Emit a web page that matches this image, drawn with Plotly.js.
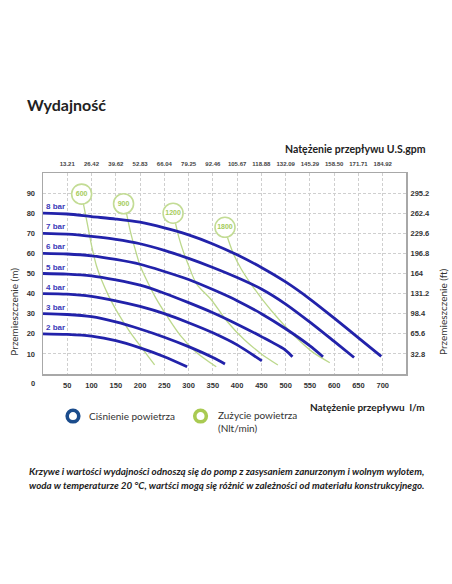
<!DOCTYPE html>
<html>
<head>
<meta charset="utf-8">
<script src="https://cdn.plot.ly/plotly-3.0.1.min.js"></script>
<style>
  html, body { margin: 0; padding: 0; background: #fff; }
  #chart { width: 452px; height: 584px; }
</style>
</head>
<body>
<div id="chart"></div>
<script>
// Flow axis ticks (l/min) and the matching U.S. gpm labels on top
const flowTicks = [50, 100, 150, 200, 250, 300, 350, 400, 450, 500, 550, 600, 650, 700];
const gpmLabels = ['13.21', '26.42', '39.62', '52.83', '66.04', '79.25', '92.46', '105.67',
    '118.88', '132.09', '145.29', '158.50', '171.71', '184.92'];

// Head axis ticks (m) and the matching feet labels on the right
const headTicks = [10, 20, 30, 40, 50, 60, 70, 80, 90];
const ftLabels = ['32.8', '65.6', '98.4', '131.2', '164', '196.8', '229.6', '262.4', '295.2'];

// Pressure curves (flow l/min, head m)
const pressureNames = ['2 bar', '3 bar', '4 bar', '5 bar', '6 bar', '7 bar', '8 bar'];
const flow2 = [0, 50, 100, 150, 200, 250, 297];
const head2 = [20, 19.7, 18.8, 16.6, 13, 8.6, 3.6];
const flow3 = [0, 50, 100, 150, 200, 250, 300, 350, 375];
const head3 = [30, 29.6, 28.5, 25.9, 22.4, 18.3, 13.6, 8.2, 5];
const flow4 = [0, 50, 100, 150, 200, 250, 300, 350, 400, 451];
const head4 = [40, 39.7, 38.6, 36.4, 33.6, 30, 25.5, 20.5, 14.5, 6.5];
const flow5 = [0, 50, 100, 150, 200, 250, 300, 350, 400, 450, 500, 514];
const head5 = [50, 49.7, 48.8, 46.8, 44.2, 40.2, 35.5, 30.5, 24.8, 18.6, 11.8, 8.6];
const flow6 = [0, 50, 100, 150, 200, 250, 300, 350, 400, 450, 500, 550, 577];
const head6 = [60, 59.7, 58.8, 57, 54.6, 51, 47, 42, 36.5, 30, 22.5, 14, 8.6];
const flow7 = [0, 50, 100, 150, 200, 250, 300, 350, 400, 450, 500, 550, 600, 641];
const head7 = [70, 69.6, 68.5, 67, 64.8, 61.5, 57.5, 53, 48, 42.3, 34.8, 25.8, 16.2, 8.2];
const flow8 = [0, 50, 100, 150, 200, 250, 300, 350, 400, 450, 500, 550, 600, 650, 697];
const head8 = [80, 79.6, 78.3, 77.1, 75.5, 72.7, 69.2, 64.7, 59.3, 53, 45.8, 37.3, 27.8, 18, 8.8];

// Air consumption curves (Nlt/min)
const airNames = ['600', '900', '1200', '1800'];
const airLabelFlow = [79.6, 166, 268, 375];
const airLabelHead = [89.5, 84.7, 80, 73];
const air600Flow = [83, 92, 100, 110, 122, 135, 155, 179, 205, 230];
const air600Head = [85, 74, 64, 54, 46, 39, 30, 21, 12.5, 4.5];
const air900Flow = [172, 180, 190, 200, 215, 232, 255, 282, 315, 357];
const air900Head = [80, 71, 62, 54, 46, 38, 29, 19.5, 11, 3.6];
const air1200Flow = [273, 280, 289, 300, 316, 347, 380, 415, 450, 484];
const air1200Head = [75, 68, 61, 54, 45, 36.8, 26, 17, 10, 4.5];
const air1800Flow = [380, 392, 409, 428, 453, 485, 520, 555, 591];
const air1800Head = [68, 60, 52, 45, 36.8, 27.5, 18.5, 11, 5.6];

const pressureFlows = [flow2, flow3, flow4, flow5, flow6, flow7, flow8];
const pressureHeads = [head2, head3, head4, head5, head6, head7, head8];
const airFlows = [air600Flow, air900Flow, air1200Flow, air1800Flow];
const airHeads = [air600Head, air900Head, air1200Head, air1800Head];

const blue = '#2222aa';
const green = '#bcd88c';
const tickFont = { family: 'Liberation Sans, Arial', size: 7.5, color: '#333', weight: 'bold' };
const textFont = 'Lato, Open Sans, sans-serif';

const traces = [];

airFlows.forEach((fl, i) => {
    traces.push({
        x: fl,
        y: airHeads[i],
        mode: 'lines',
        type: 'scatter',
        line: { color: green, width: 1.3, shape: 'spline', smoothing: 0.8 },
        hoverinfo: 'skip',
        showlegend: false
    });
});

pressureFlows.forEach((fl, i) => {
    traces.push({
        x: fl,
        y: pressureHeads[i],
        name: pressureNames[i],
        mode: 'lines',
        type: 'scatter',
        line: { color: blue, width: 2.8, shape: 'spline', smoothing: 0.8 },
        showlegend: false
    });
});

// circles with the air consumption value
traces.push({
    x: airLabelFlow,
    y: airLabelHead,
    text: airNames,
    mode: 'markers+text',
    type: 'scatter',
    textposition: 'middle center',
    textfont: { family: 'Liberation Sans, Arial', size: 7, color: '#a6cc5c', weight: 'bold' },
    marker: { size: 20, color: '#ffffff', line: { color: '#c3dc95', width: 1.6 } },
    hoverinfo: 'skip',
    showlegend: false
});

// invisible trace so that the top and right axes get drawn
traces.push({
    x: [0], y: [0], xaxis: 'x2', yaxis: 'y2',
    mode: 'markers', marker: { opacity: 0 }, hoverinfo: 'skip', showlegend: false
});

const annotations = [];

pressureNames.forEach((name, i) => {
    annotations.push({
        x: 2, y: pressureHeads[i][0], xref: 'x', yref: 'y',
        text: name, showarrow: false, xanchor: 'left', yanchor: 'bottom', yshift: 0,
        font: { family: 'Liberation Sans, Arial', size: 8, color: '#3a3ab8', weight: 'bold' }
    });
});

const note = (x, y, text, font, xanchor) => ({
    x: x, y: y, xref: 'paper', yref: 'paper', text: text, showarrow: false,
    xanchor: xanchor || 'left', yanchor: 'middle', align: 'left', font: font
});

annotations.push(
    note(-0.027, -0.045, '0', tickFont, 'center'),
    note(1.0606, 1.119, 'Natężenie przepływu U.S.gpm',
        { family: textFont, size: 10.5, color: '#222', weight: 'bold' }, 'right'),
    { x: -0.08, y: 0.31, xref: 'paper', yref: 'paper', textangle: -90, showarrow: false,
      xanchor: 'center', yanchor: 'middle',
      text: 'Przemieszczenie (m)', font: { family: textFont, size: 10, color: '#333' } },
    { x: 1.1, y: 0.31, xref: 'paper', yref: 'paper', textangle: -90, showarrow: false,
      xanchor: 'center', yanchor: 'middle',
      text: 'Przemieszczenie (ft)', font: { family: textFont, size: 10, color: '#333' } },
    note(0.121, -0.209, 'Ciśnienie powietrza', { family: textFont, size: 10, color: '#333' }),
    note(0.476, -0.236, 'Zużycie powietrza<br>(Nlt/min)', { family: textFont, size: 10, color: '#333' }),
    note(1.058, -0.166, 'Natężenie przepływu  l/m',
        { family: textFont, size: 10, color: '#222', weight: 'bold' }, 'right'),
    note(-0.044, -0.483,
        'Krzywe i wartości wydajności odnoszą się do pomp z zasysaniem zanurzonym i wolnym wylotem,',
        { family: textFont, size: 9.8, color: '#222', weight: 'bold', style: 'italic' }),
    note(-0.044, -0.553,
        'woda w temperaturze 20 °C, wartści mogą się różnić w zależności od materiału konstrukcyjnego.',
        { family: textFont, size: 9.8, color: '#222', weight: 'bold', style: 'italic' })
);

const ringRx = 5.8 / 363;
const ringRy = 5.8 / 201;
const ringY = -0.209;
const shapes = [
    { type: 'circle', xref: 'paper', yref: 'paper',
      x0: 0.0826 - ringRx, x1: 0.0826 + ringRx, y0: ringY - ringRy, y1: ringY + ringRy,
      line: { color: '#1b4c8c', width: 3.6 }, fillcolor: 'rgba(0,0,0,0)' },
    { type: 'circle', xref: 'paper', yref: 'paper',
      x0: 0.434 - ringRx, x1: 0.434 + ringRx, y0: ringY - ringRy, y1: ringY + ringRy,
      line: { color: '#a9ca52', width: 3.6 }, fillcolor: 'rgba(0,0,0,0)' }
];

const layout = {
    width: 452,
    height: 584,
    margin: { l: 43, r: 46, t: 173, b: 210 },
    paper_bgcolor: '#ffffff',
    plot_bgcolor: '#ffffff',
    title: {
        text: 'Wydajność',
        x: 27 / 452, xanchor: 'left', xref: 'container',
        y: 1 - 105 / 584, yanchor: 'middle', yref: 'container',
        font: { family: textFont, size: 16, color: '#222', weight: 'bold' }
    },
    xaxis: {
        range: [0, 748], autorange: false, fixedrange: true,
        tickvals: flowTicks,
        tickfont: tickFont,
        showgrid: true, gridcolor: '#cfcfcf', gridwidth: 1, griddash: '3px,2px',
        zeroline: false,
        showline: true, linecolor: '#a8a8a8', linewidth: 1.5, mirror: true,
        ticks: 'outside', ticklen: 3, tickcolor: 'rgba(0,0,0,0)'
    },
    xaxis2: {
        overlaying: 'x', side: 'top',
        range: [0, 748], autorange: false, fixedrange: true,
        tickvals: flowTicks, ticktext: gpmLabels,
        tickfont: { family: 'Liberation Sans, Arial', size: 6, color: '#444', weight: 'bold' },
        showgrid: false, zeroline: false, showline: false,
        ticks: 'outside', ticklen: 4, tickcolor: 'rgba(0,0,0,0)'
    },
    yaxis: {
        range: [0, 100], autorange: false, fixedrange: true,
        tickvals: headTicks,
        tickfont: tickFont,
        showgrid: true, gridcolor: '#cfcfcf', gridwidth: 1, griddash: '3px,2px',
        zeroline: false,
        showline: true, linecolor: '#a8a8a8', linewidth: 1.5, mirror: true,
        ticks: 'outside', ticklen: 5, tickcolor: 'rgba(0,0,0,0)'
    },
    yaxis2: {
        overlaying: 'y', side: 'right',
        range: [0, 100], autorange: false, fixedrange: true,
        tickvals: headTicks, ticktext: ftLabels,
        tickfont: tickFont,
        showgrid: false, zeroline: false, showline: false,
        ticks: 'outside', ticklen: 2, tickcolor: 'rgba(0,0,0,0)'
    },
    showlegend: false,
    annotations: annotations,
    shapes: shapes
};

Plotly.newPlot('chart', traces, layout, { displayModeBar: false, staticPlot: true });
</script>
</body>
</html>
